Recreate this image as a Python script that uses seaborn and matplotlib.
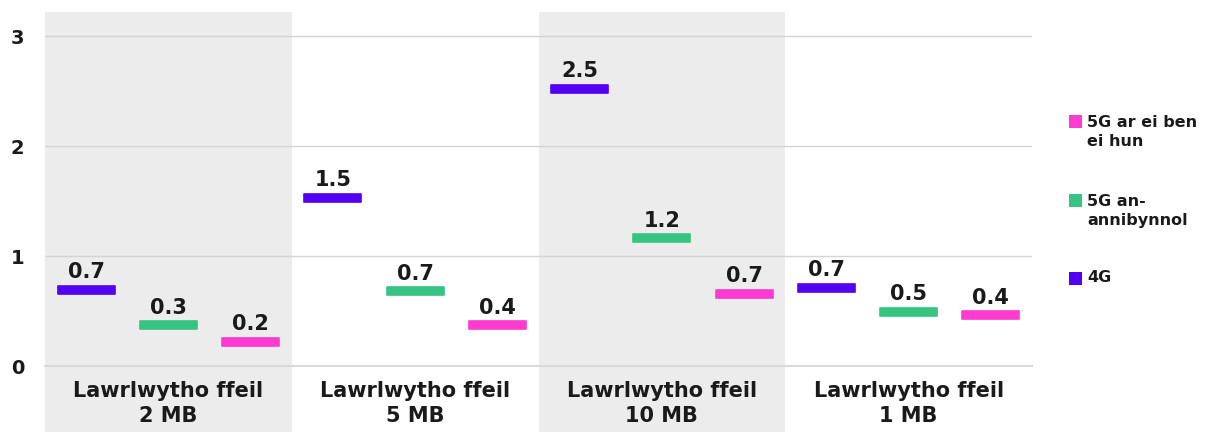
import numpy as np
import pandas as pd
import matplotlib
matplotlib.use("Agg")
import matplotlib.pyplot as plt
import seaborn as sns
from matplotlib.path import Path
from matplotlib.markers import MarkerStyle
from matplotlib.patches import Rectangle

# ---- data ----
categories = ["Lawrlwytho ffeil\n2 MB", "Lawrlwytho ffeil\n5 MB",
              "Lawrlwytho ffeil\n10 MB", "Lawrlwytho ffeil\n1 MB"]
series = ["4G", "5G an-\nannibynnol", "5G ar ei ben\nei hun"]
values_4g = [0.69, 1.53, 2.52, 0.71]
values_5g_nsa = [0.37, 0.68, 1.16, 0.49]
values_5g_sa = [0.22, 0.37, 0.655, 0.46]
labels_4g = ["0.7", "1.5", "2.5", "0.7"]
labels_5g_nsa = ["0.3", "0.7", "1.2", "0.5"]
labels_5g_sa = ["0.2", "0.4", "0.7", "0.4"]
yticks = [0, 1, 2, 3]
colors = ["#5300F2", "#37C483", "#FF3BD0"]

sns.set_theme(style="white")
plt.rcParams["font.family"] = ["DejaVu Sans"]
plt.rcParams["font.weight"] = "bold"
TXT = "#1a1a1a"

rows = []
for s_idx, (name, vals, labs) in enumerate(zip(series,
                                               [values_4g, values_5g_nsa, values_5g_sa],
                                               [labels_4g, labels_5g_nsa, labels_5g_sa])):
    for c_idx, (v, lab) in enumerate(zip(vals, labs)):
        rows.append({"cat": c_idx, "series": name, "value": v, "label": lab,
                     "x": c_idx + (s_idx - 1) / 3})
df = pd.DataFrame(rows)

W, H = 1206, 432
fig = plt.figure(figsize=(W / 100, H / 100), dpi=100)
ax_left, ax_right, ax_bot, ax_top = 45, 1032, 66, 12
ax = fig.add_axes([ax_left / W, ax_bot / H, (ax_right - ax_left) / W,
                   (H - ax_top - ax_bot) / H])
ax_h_px = H - ax_top - ax_bot

ax.set_xlim(-0.5, 3.5)
ax.set_ylim(0, 3 + 24 / 110)

# shaded bands
for i in [0, 2]:
    ax.add_patch(Rectangle((i - 0.5, -ax_bot / ax_h_px), 1, 1 + ax_bot / ax_h_px,
                           transform=ax.get_xaxis_transform(), facecolor="#ececec",
                           edgecolor="none", zorder=0, clip_on=False))

# bar-like dash marker
hh = 0.14
verts = [(-1, -hh), (1, -hh), (1, hh), (-1, hh), (-1, -hh)]
codes = [Path.MOVETO, Path.LINETO, Path.LINETO, Path.LINETO, Path.CLOSEPOLY]
dash = MarkerStyle(Path(verts, codes))
width_pt = 57 * 72 / 100

sns.scatterplot(data=df, x="x", y="value", hue="series",
                palette=dict(zip(series, colors)), marker=dash,
                s=width_pt ** 2, linewidth=1.2, legend=False, ax=ax, zorder=3)
coll = ax.collections[-1]
coll.set_edgecolor(coll.get_facecolor())
coll.set_joinstyle("round")

for _, r in df.iterrows():
    ax.annotate(r["label"], xy=(r["x"], r["value"]), xytext=(0, 5.5),
                textcoords="offset points", ha="center", va="bottom",
                fontsize=15, fontweight="bold", color=TXT, zorder=4)

# axes styling
ax.set_axisbelow(True)
ax.yaxis.grid(True, color="#d4d4d4", linewidth=1)
ax.xaxis.grid(False)
for sp in ["top", "right", "left"]:
    ax.spines[sp].set_visible(False)
ax.spines["bottom"].set_color("#d9d9d9")
ax.spines["bottom"].set_linewidth(1.5)

ax.set_xticks(range(len(categories)))
ax.set_xticklabels(categories, fontsize=15, fontweight="bold", color=TXT,
                   linespacing=1.3)
ax.set_xticks(np.arange(-0.5, 3.51, 1 / 3), minor=True)
ax.tick_params(axis="x", which="major", length=0, pad=11)
ax.tick_params(axis="x", which="minor", length=5, width=1, color="#d9d9d9")
ax.set_yticks(yticks)
ax.set_yticklabels([str(t) for t in yticks], fontsize=14, fontweight="bold", color=TXT)
ax.tick_params(axis="y", length=0, pad=15)
ax.set_xlabel("")
ax.set_ylabel("")

# legend (reversed order)
leg_items = [(series[2], colors[2], 121, 132),
             (series[1], colors[1], 200, 211),
             (series[0], colors[0], 278, 278)]
for name, col, sq_y, txt_y in leg_items:
    fig.patches.append(Rectangle((1069 / W, 1 - (sq_y + 6.5) / H), 13 / W, 13 / H,
                                 transform=fig.transFigure, facecolor=col,
                                 edgecolor="none"))
    fig.text(1087 / W, 1 - txt_y / H, name, ha="left", va="center",
             fontsize=11.5, fontweight="bold", color=TXT, linespacing=1.35)

fig.savefig("out.png", dpi=100)
